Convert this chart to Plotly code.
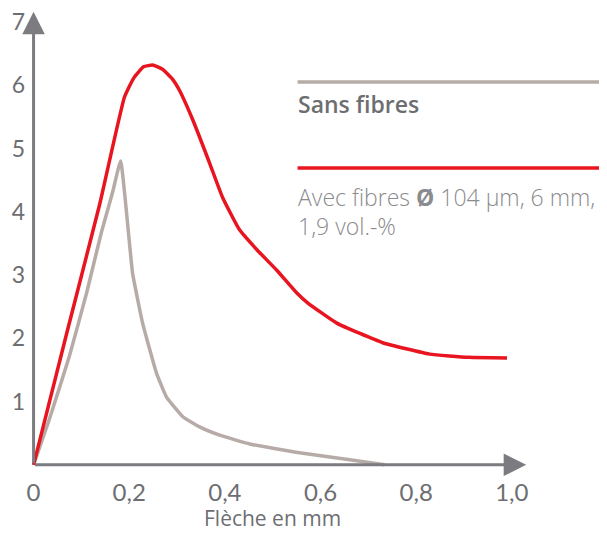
import plotly.graph_objects as go

# Flèche (mm) / force readings
fleche_avec = [0.0, 0.07, 0.138, 0.19, 0.21, 0.23, 0.249, 0.27, 0.29, 0.305, 0.333, 0.368,
               0.395, 0.431, 0.467, 0.508, 0.55, 0.573, 0.634, 0.73, 0.828, 0.91, 0.99]
force_avec = [0.0, 2.1, 4.11, 5.81, 6.12, 6.29, 6.32, 6.25, 6.1, 5.92, 5.45, 4.77,
              4.23, 3.71, 3.4, 3.08, 2.72, 2.56, 2.24, 1.93, 1.75, 1.7, 1.69]

fleche_sans = [0.0, 0.033, 0.075, 0.111, 0.142, 0.165, 0.182, 0.207, 0.228, 0.257, 0.278,
               0.312, 0.347, 0.389, 0.452, 0.556, 0.661, 0.734]
force_sans = [0.0, 0.72, 1.72, 2.72, 3.68, 4.3, 4.8, 3.03, 2.24, 1.45, 1.07,
              0.76, 0.6, 0.47, 0.33, 0.19, 0.08, 0.0]

x_ticks = [0, 0.2, 0.4, 0.6, 0.8, 1.0]
x_labels = ["0", "0,2", "0,4", "0,6", "0,8", "1,0"]
y_ticks = [1, 2, 3, 4, 5, 6, 7]

RED = "#e8141f"
GREY = "#b6aba7"
AXIS = "#7b7b80"
TEXT = "#6d6e71"

fig = go.Figure()
fig.add_trace(go.Scatter(x=fleche_sans, y=force_sans, mode="lines",
                         line=dict(color=GREY, width=3.5, shape="spline", smoothing=0.35)))
fig.add_trace(go.Scatter(x=fleche_avec, y=force_avec, mode="lines",
                         line=dict(color=RED, width=3.5, shape="spline", smoothing=0.4)))

# axes drawn as arrows
fig.add_annotation(x=1.03, y=0, ax=0, ay=0, xref="x", yref="y", axref="x", ayref="y",
                   text="", showarrow=True, arrowhead=2, arrowsize=1.5, arrowwidth=3,
                   arrowcolor=AXIS)
fig.add_annotation(x=0, y=7.16, ax=0, ay=0, xref="x", yref="y", axref="x", ayref="y",
                   text="", showarrow=True, arrowhead=2, arrowsize=1.5, arrowwidth=3,
                   arrowcolor=AXIS)

# legend drawn by hand
fig.add_shape(type="line", x0=0.552, x1=1.25, y0=6.05, y1=6.05, line=dict(color=GREY, width=3.5))
fig.add_shape(type="line", x0=0.552, x1=1.25, y0=4.69, y1=4.69, line=dict(color=RED, width=3.5))
fig.add_annotation(x=0.548, y=5.70, text="Sans fibres", showarrow=False, xanchor="left",
                   font=dict(family="Open Sans", size=23, color=TEXT, weight=600))
fig.add_annotation(x=0.548, y=4.23, text="Avec fibres <b>Ø</b> 104 µm, 6 mm,", showarrow=False,
                   xanchor="left", font=dict(family="Open Sans", size=23, color="#8a8b8e", weight=300))
fig.add_annotation(x=0.548, y=3.78, text="1,9 vol.-%", showarrow=False,
                   xanchor="left", font=dict(family="Open Sans", size=23, color="#8a8b8e", weight=300))

# x axis title
fig.add_annotation(x=0.5, y=-0.108, xref="x", yref="paper", yanchor="middle", text="Flèche en mm",
                   showarrow=False, font=dict(family="Open Sans", size=21, color=TEXT, weight=500))

# page body adds an 8px margin, so the figure is 8px smaller than the window
fig.update_layout(
    width=599, height=525,
    margin=dict(l=16.4, r=0, t=0, b=64.8),
    plot_bgcolor="white", paper_bgcolor="white",
    showlegend=False,
    xaxis=dict(range=[-0.02, 1.199], tickvals=x_ticks, ticktext=x_labels, showgrid=False,
               zeroline=False, showline=False, ticks="", ticklabelstandoff=8, automargin=False,
               tickfont=dict(family="Lato", size=24, color=TEXT)),
    yaxis=dict(range=[-0.05, 7.22], tickvals=y_ticks, showgrid=False, zeroline=False,
               showline=False, ticks="", ticklabelstandoff=-2, automargin=False,
               ticklabeloverflow="allow",
               tickfont=dict(family="Lato", size=23, color=TEXT)),
)

fig.write_html("out.html")
